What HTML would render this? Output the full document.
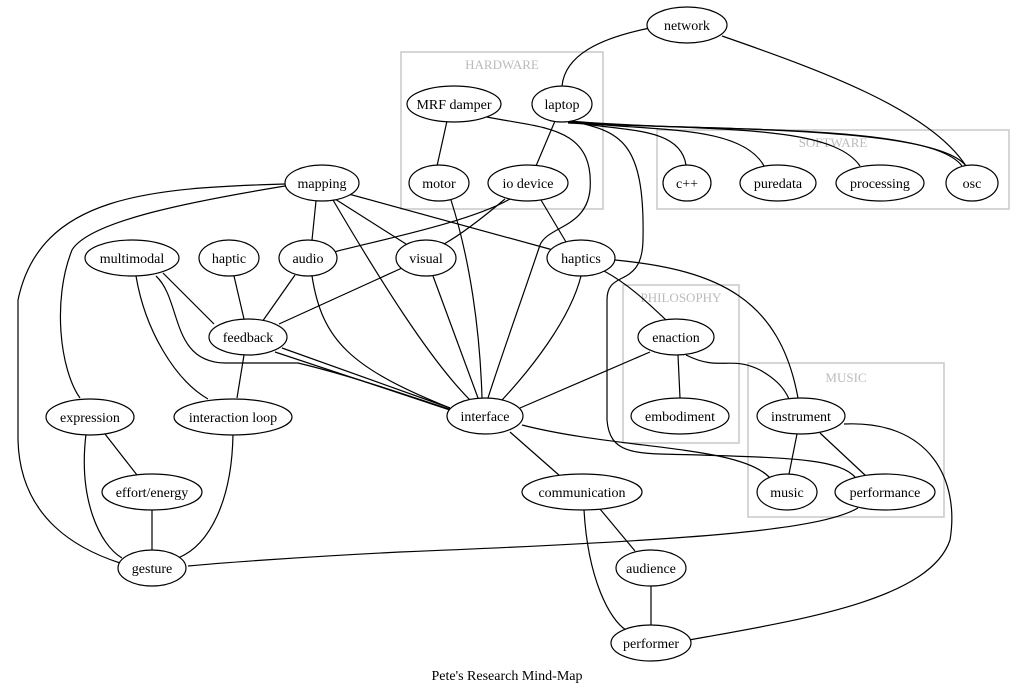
<!DOCTYPE html>
<html><head><style>
html,body{margin:0;padding:0;background:#fff;}
svg{display:block;}
text{font-family:"Liberation Serif",serif;font-size:14px;fill:#000;}
.cl{font-size:13px;fill:#bbb;}
</style></head><body>
<svg width="1024" height="691" viewBox="0 0 1024 691" xmlns="http://www.w3.org/2000/svg">
<g fill="none" stroke="#c8c8c8" stroke-width="1.5">
<rect x="401" y="52" width="202" height="157"/>
<rect x="657" y="130" width="352" height="79"/>
<rect x="623" y="285" width="116" height="158"/>
<rect x="748" y="363" width="196" height="154"/>
</g>
<text class="cl" x="502" y="69" text-anchor="middle">HARDWARE</text>
<text class="cl" x="833" y="147" text-anchor="middle">SOFTWARE</text>
<text class="cl" x="681" y="302" text-anchor="middle">PHILOSOPHY</text>
<text class="cl" x="846" y="382" text-anchor="middle">MUSIC</text>
<g fill="none" stroke="#000" stroke-width="1.2">
<path d="M650,28 C600,38 565,55 562,86"/>
<path d="M722,36 C820,70 930,110 966,166"/>
<path d="M568,121 C620,132 680,125 686,165"/>
<path d="M568,121 C640,132 740,122 764,166"/>
<path d="M568,121 C700,132 830,122 860,166"/>
<path d="M568,122 C700,132 930,122 962,166"/>
<path d="M568,123 C700,130 935,125 966,166"/>
<path d="M555,121 L536,166"/>
<path d="M572,121 C620,132 645,140 643,240 C642,290 607,268 607,300 L607,420 C610,458 640,453 700,455 C800,458 840,460 856,478"/>
<path d="M447,121 L437,166"/>
<path d="M487,117 C540,128 595,125 590,190 C586,228 548,226 540,245 C525,290 500,360 488,398"/>
<path d="M451,200 C470,260 480,330 482,398"/>
<path d="M510,199 C470,222 380,240 334,252"/>
<path d="M505,199 C480,220 460,235 444,244"/>
<path d="M541,200 L566,242"/>
<path d="M285,184 C150,188 40,195 18,300 L18,440 C20,520 80,550 120,563"/>
<path d="M285,186 C200,200 90,220 72,250 C52,300 60,370 80,398"/>
<path d="M316,201 L312,240"/>
<path d="M335,199 L406,244"/>
<path d="M345,193 L553,250"/>
<path d="M333,200 C380,280 430,360 470,400"/>
<path d="M163,273 L214,324"/>
<path d="M136,276 C145,330 175,380 208,399"/>
<path d="M156,276 C182,300 170,362 225,363 L298,363 C360,378 420,400 452,410"/>
<path d="M234,276 L244,319"/>
<path d="M295,275 L262,322"/>
<path d="M312,276 C322,340 350,368 450,408"/>
<path d="M402,268 L279,324"/>
<path d="M433,276 L478,398"/>
<path d="M581,276 C570,320 530,370 502,400"/>
<path d="M604,271 C630,285 650,305 666,320"/>
<path d="M615,260 C720,270 780,300 798,398"/>
<path d="M244,355 L237,398"/>
<path d="M282,348 L450,408"/>
<path d="M275,352 L450,410"/>
<path d="M233,434 C232,500 210,545 178,558"/>
<path d="M105,434 L137,475"/>
<path d="M86,434 C78,500 100,545 122,558"/>
<path d="M152,510 L152,550"/>
<path d="M520,408 L650,352"/>
<path d="M510,432 L560,476"/>
<path d="M522,425 C620,450 740,445 770,478"/>
<path d="M678,355 L680,398"/>
<path d="M686,355 C720,372 730,355 760,370 C778,380 785,390 789,399"/>
<path d="M797,434 L789,474"/>
<path d="M820,433 L866,476"/>
<path d="M844,424 C930,420 960,480 950,540 C930,600 800,620 689,640"/>
<path d="M858,508 C820,530 700,540 400,552 C300,557 220,563 188,566"/>
<path d="M600,509 L635,551"/>
<path d="M584,510 C588,580 610,620 626,630"/>
<path d="M651,586 L651,625"/>
</g>
<g fill="#fff" stroke="#000" stroke-width="1.2">
<ellipse cx="687" cy="25" rx="40" ry="18"/>
<ellipse cx="454" cy="104" rx="47" ry="18"/>
<ellipse cx="562" cy="104" rx="30" ry="18"/>
<ellipse cx="439" cy="183" rx="30" ry="18"/>
<ellipse cx="528" cy="183" rx="40" ry="18"/>
<ellipse cx="687" cy="183" rx="24" ry="18"/>
<ellipse cx="778" cy="183" rx="38" ry="18"/>
<ellipse cx="880" cy="183" rx="44" ry="18"/>
<ellipse cx="972" cy="183" rx="26" ry="18"/>
<ellipse cx="322" cy="183" rx="37" ry="18"/>
<ellipse cx="132" cy="258" rx="47" ry="18"/>
<ellipse cx="229" cy="258" rx="30" ry="18"/>
<ellipse cx="308" cy="258" rx="29" ry="18"/>
<ellipse cx="426" cy="258" rx="30" ry="18"/>
<ellipse cx="581" cy="258" rx="34" ry="18"/>
<ellipse cx="676" cy="337" rx="38" ry="18"/>
<ellipse cx="680" cy="416" rx="49" ry="18"/>
<ellipse cx="248" cy="337" rx="39" ry="18"/>
<ellipse cx="90" cy="417" rx="44" ry="18"/>
<ellipse cx="233" cy="417" rx="59" ry="18"/>
<ellipse cx="485" cy="416" rx="38" ry="18"/>
<ellipse cx="801" cy="416" rx="44" ry="18"/>
<ellipse cx="152" cy="492" rx="50" ry="18"/>
<ellipse cx="582" cy="492" rx="60" ry="18"/>
<ellipse cx="787" cy="492" rx="30" ry="18"/>
<ellipse cx="885" cy="492" rx="50" ry="18"/>
<ellipse cx="152" cy="568" rx="34" ry="18"/>
<ellipse cx="651" cy="568" rx="35" ry="18"/>
<ellipse cx="651" cy="643" rx="40" ry="18"/>
</g>
<g text-anchor="middle">
<text x="687" y="30">network</text>
<text x="454" y="109">MRF damper</text>
<text x="562" y="109">laptop</text>
<text x="439" y="188">motor</text>
<text x="528" y="188">io device</text>
<text x="687" y="188">c++</text>
<text x="778" y="188">puredata</text>
<text x="880" y="188">processing</text>
<text x="972" y="188">osc</text>
<text x="322" y="188">mapping</text>
<text x="132" y="263">multimodal</text>
<text x="229" y="263">haptic</text>
<text x="308" y="263">audio</text>
<text x="426" y="263">visual</text>
<text x="581" y="263">haptics</text>
<text x="676" y="342">enaction</text>
<text x="680" y="421">embodiment</text>
<text x="248" y="342">feedback</text>
<text x="90" y="422">expression</text>
<text x="233" y="422">interaction loop</text>
<text x="485" y="421">interface</text>
<text x="801" y="421">instrument</text>
<text x="152" y="497">effort/energy</text>
<text x="582" y="497">communication</text>
<text x="787" y="497">music</text>
<text x="885" y="497">performance</text>
<text x="152" y="573">gesture</text>
<text x="651" y="573">audience</text>
<text x="651" y="648">performer</text>
<text x="507" y="680">Pete's Research Mind-Map</text>
</g>
</svg>
</body></html>
